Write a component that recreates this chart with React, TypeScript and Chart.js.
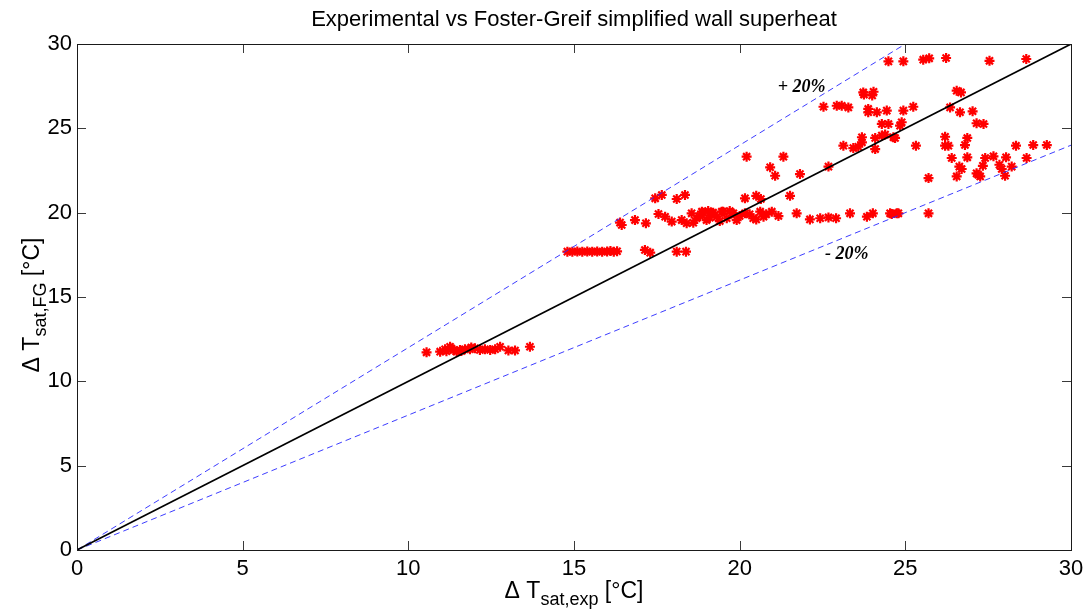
import React, { useEffect, useRef } from "react";
import { Chart, registerables } from "chart.js";

Chart.register(...registerables);

// ---- data ----
const AXIS_TICKS = [0, 5, 10, 15, 20, 25, 30];

const EXP_X = [
  10.55, 10.96, 11.11, 11.15, 11.26, 11.3, 11.36, 11.46, 11.56, 11.6, 11.71, 11.86, 11.9, 12.01, 12.16, 12.31, 12.47, 12.62, 12.77, 13.02, 13.22, 13.67,
  14.8, 14.95, 15.1, 15.25, 15.4, 15.55, 15.7, 15.85, 16.0, 16.1, 16.2, 16.3, 17.14, 17.3, 18.1, 18.38,
  16.39, 16.44, 16.84, 17.17, 17.45, 17.65, 18.1, 18.35, 17.55, 17.75, 17.95, 18.25, 18.4, 18.55, 18.7, 18.86, 19.0, 19.16, 19.31, 19.46, 19.61, 19.81,
  18.9, 19.2, 19.5, 19.76, 19.91, 20.16, 20.41, 20.62, 20.72, 20.97, 21.17, 21.72, 22.12, 22.43, 22.68, 22.91, 23.33, 23.84, 24.02, 24.54, 24.79, 25.7, 24.59, 24.74,
  18.6, 18.8, 19.1, 19.4, 19.7, 20.0, 20.3, 20.5, 20.8, 19.05,
  20.16, 20.5, 20.64, 21.52,
  24.49, 24.94, 25.54, 25.72, 26.23, 27.54, 28.65,
  22.53, 22.93, 23.08, 23.28, 23.73, 24.04, 23.75, 24.0,
  23.88, 23.88, 24.14, 24.44, 24.29, 24.49,
  23.69, 23.69, 24.09, 24.29, 24.64, 23.13, 23.43, 24.09, 23.58,
  20.21, 21.32, 20.92, 21.07, 21.82, 22.68,
  26.55, 26.68, 25.24, 24.94, 26.35, 26.65, 27.03,
  24.89, 24.84, 27.15, 27.36, 24.39, 24.69, 26.2, 26.87,
  25.32, 26.2, 26.3, 26.8, 28.34, 28.86, 29.27,
  26.4, 26.87, 27.41, 27.66, 28.04, 28.66,
  27.34, 27.84, 27.91, 28.21, 26.63, 26.7, 26.55, 27.15, 27.26, 28.01, 25.7, 27.2,
];

const FG_Y = [
  11.72, 11.76, 11.9, 11.78, 12.05, 11.95, 11.86, 11.76, 11.86, 11.8, 11.9, 11.9, 12.0, 11.96, 11.86, 11.9, 11.86, 11.9, 12.05, 11.83, 11.83, 12.05,
  17.69, 17.69, 17.7, 17.68, 17.7, 17.69, 17.7, 17.68, 17.7, 17.72, 17.69, 17.71, 17.79, 17.63, 17.69, 17.69,
  19.41, 19.27, 19.56, 19.37, 20.85, 21.05, 20.81, 21.05, 19.92, 19.76, 19.47, 19.56, 19.37, 19.96, 19.67, 20.06, 19.56, 19.96, 19.76, 20.06, 19.67, 19.96,
  20.0, 20.0, 20.06, 19.96, 19.56, 19.96, 19.67, 20.06, 19.76, 20.06, 19.8, 19.96, 19.6, 19.67, 19.72, 19.67, 19.96, 19.76, 19.96, 19.96, 19.96, 19.96, 19.92, 19.96,
  19.4, 19.8, 19.7, 19.5, 20.1, 19.8, 19.9, 19.6, 19.9, 20.1,
  20.85, 21.0, 20.81, 21.0,
  28.97, 28.97, 29.07, 29.15, 29.17, 29.0, 29.11,
  26.28, 26.34, 26.34, 26.24, 27.13, 27.17, 27.0, 26.95,
  26.15, 25.95, 25.95, 26.05, 25.26, 25.26,
  24.47, 24.17, 24.43, 24.57, 24.47, 23.97, 23.83, 23.77, 23.91,
  23.32, 23.32, 22.69, 22.19, 22.29, 22.73,
  27.23, 27.13, 26.28, 26.05, 26.24, 25.95, 26.01,
  25.36, 25.16, 25.3, 25.26, 24.63, 24.43, 24.5, 24.43,
  23.97, 23.97, 23.97, 24.01, 23.97, 24.01, 24.01,
  23.24, 23.28, 23.24, 23.34, 23.28, 23.24,
  22.78, 22.84, 22.59, 22.73, 22.73, 22.59, 22.15, 22.33, 22.15, 22.19, 22.05, 22.25,
];

const IDEAL_X = [0, 30];
const IDEAL_Y = [0, 30];
const PLUS20_X = [0, 25];
const PLUS20_Y = [0, 30];
const MINUS20_X = [0, 30];
const MINUS20_Y = [0, 24];

const TITLE = "Experimental vs Foster-Greif simplified wall superheat";
const LABEL_PLUS = "+ 20%";
const LABEL_PLUS_AT = [21.87, 27.45];
const LABEL_MINUS = "- 20%";
const LABEL_MINUS_AT = [23.23, 17.55];

const SANS = "'Liberation Sans', Arial, Helvetica, sans-serif";
const SERIF = "'Liberation Serif', 'Times New Roman', serif";

function pts(xs: number[], ys: number[]) {
  return xs.map((x, i) => ({ x, y: ys[i] }));
}

function drawSubLabel(
  ctx: CanvasRenderingContext2D,
  main: string,
  sub: string,
  tail: string,
  cx: number,
  cy: number,
  rotate: boolean
) {
  const mainFont = `23px ${SANS}`;
  const subFont = `18px ${SANS}`;
  ctx.save();
  ctx.translate(cx, cy);
  if (rotate) ctx.rotate(-Math.PI / 2);
  ctx.fillStyle = "#000";
  ctx.textBaseline = "alphabetic";
  ctx.textAlign = "left";
  ctx.font = mainFont;
  const w1 = ctx.measureText(main).width;
  const w3 = ctx.measureText(tail).width;
  ctx.font = subFont;
  const w2 = ctx.measureText(sub).width;
  const total = w1 + w2 + w3;
  let x = -total / 2;
  const base = 8;
  ctx.font = mainFont;
  ctx.fillText(main, x, base);
  x += w1;
  ctx.font = subFont;
  ctx.fillText(sub, x, base + 7);
  x += w2;
  ctx.font = mainFont;
  ctx.fillText(tail, x, base);
  ctx.restore();
}

const framePlugin = {
  id: "matlabFrame",
  afterDraw(chart: any) {
    const { ctx, chartArea } = chart;
    const { left, right, top, bottom } = chartArea;
    const xs = chart.scales.x;
    const ys = chart.scales.y;
    ctx.save();
    // inward ticks
    ctx.strokeStyle = "#3a3a3a";
    ctx.lineWidth = 1;
    const tl = 9;
    AXIS_TICKS.forEach((t) => {
      const px = Math.round(xs.getPixelForValue(t)) + 0.5;
      ctx.beginPath();
      ctx.moveTo(px, bottom);
      ctx.lineTo(px, bottom - tl);
      ctx.moveTo(px, top);
      ctx.lineTo(px, top + tl);
      ctx.stroke();
      const py = Math.round(ys.getPixelForValue(t)) + 0.5;
      ctx.beginPath();
      ctx.moveTo(left, py);
      ctx.lineTo(left + tl, py);
      ctx.moveTo(right, py);
      ctx.lineTo(right - tl, py);
      ctx.stroke();
    });
    // box
    ctx.strokeStyle = "#1a1a1a";
    ctx.strokeRect(Math.round(left) + 0.5, Math.round(top) + 0.5, Math.round(right - left), Math.round(bottom - top));
    // annotations
    ctx.fillStyle = "#000";
    ctx.font = `italic bold 18px ${SERIF}`;
    ctx.textAlign = "center";
    ctx.textBaseline = "middle";
    ctx.fillText(LABEL_PLUS, xs.getPixelForValue(LABEL_PLUS_AT[0]), ys.getPixelForValue(LABEL_PLUS_AT[1]));
    ctx.fillText(LABEL_MINUS, xs.getPixelForValue(LABEL_MINUS_AT[0]), ys.getPixelForValue(LABEL_MINUS_AT[1]));
    // title
    ctx.font = `22px ${SANS}`;
    ctx.textBaseline = "alphabetic";
    ctx.fillText(TITLE, (left + right) / 2, top - 18);
    // axis titles
    drawSubLabel(ctx, "\u0394 T", "sat,exp", " [\u00B0C]", (left + right) / 2, bottom + 40, false);
    drawSubLabel(ctx, "\u0394 T", "sat,FG", " [\u00B0C]", 31, (top + bottom) / 2 + 8, true);
    ctx.restore();
  },
};

export default function App() {
  const canvasRef = useRef<HTMLCanvasElement | null>(null);

  useEffect(() => {
    const canvas = canvasRef.current;
    if (!canvas) return;
    const tickFont = { family: SANS, size: 22 };
    const chart = new Chart(canvas, {
      type: "scatter",
      data: {
        datasets: [
          {
            label: "ideal",
            type: "line",
            data: pts(IDEAL_X, IDEAL_Y),
            borderColor: "#000",
            borderWidth: 1.6,
            pointRadius: 0,
            fill: false,
            order: 0,
          },
          {
            label: "+20%",
            type: "line",
            data: pts(PLUS20_X, PLUS20_Y),
            borderColor: "rgba(40,40,255,0.9)",
            borderWidth: 1,
            borderDash: [6, 4],
            pointRadius: 0,
            fill: false,
            order: 0,
          },
          {
            label: "-20%",
            type: "line",
            data: pts(MINUS20_X, MINUS20_Y),
            borderColor: "rgba(40,40,255,0.9)",
            borderWidth: 1,
            borderDash: [6, 4],
            pointRadius: 0,
            fill: false,
            order: 0,
          },
          {
            label: "data",
            data: pts(EXP_X, FG_Y),
            pointStyle: "star",
            pointRadius: 5,
            borderWidth: 2.2,
            borderColor: "#ff0000",
            backgroundColor: "#ff0000",
            order: 1,
          },
        ],
      },
      options: {
        responsive: false,
        animation: false,
        layout: { padding: { top: 44, right: 14, left: 0, bottom: 0 } },
        plugins: {
          legend: { display: false },
          tooltip: { enabled: false },
          title: { display: false },
        },
        scales: {
          x: {
            type: "linear",
            min: 0,
            max: 30,
            grid: { display: false, drawTicks: false },
            border: { display: false },
            afterBuildTicks: (scale: any) => {
              scale.ticks = AXIS_TICKS.map((v) => ({ value: v }));
            },
            afterFit: (scale: any) => {
              scale.height = 61;
              scale.paddingLeft = 0;
              scale.paddingRight = 0;
            },
            ticks: { font: tickFont, color: "#000", padding: 6, maxRotation: 0 },
          },
          y: {
            type: "linear",
            min: 0,
            max: 30,
            grid: { display: false, drawTicks: false },
            border: { display: false },
            afterBuildTicks: (scale: any) => {
              scale.ticks = AXIS_TICKS.map((v) => ({ value: v }));
            },
            afterFit: (scale: any) => {
              scale.width = 77;
              scale.paddingTop = 0;
              scale.paddingBottom = 0;
            },
            ticks: { font: tickFont, color: "#000", padding: 5 },
          },
        },
      },
      plugins: [framePlugin],
    });
    return () => chart.destroy();
  }, []);

  return (
    <div style={{ position: "fixed", left: 0, top: 0, width: 1085, height: 611, background: "#fff" }}>
      <canvas ref={canvasRef} width={1085} height={611} style={{ display: "block" }} />
    </div>
  );
}
